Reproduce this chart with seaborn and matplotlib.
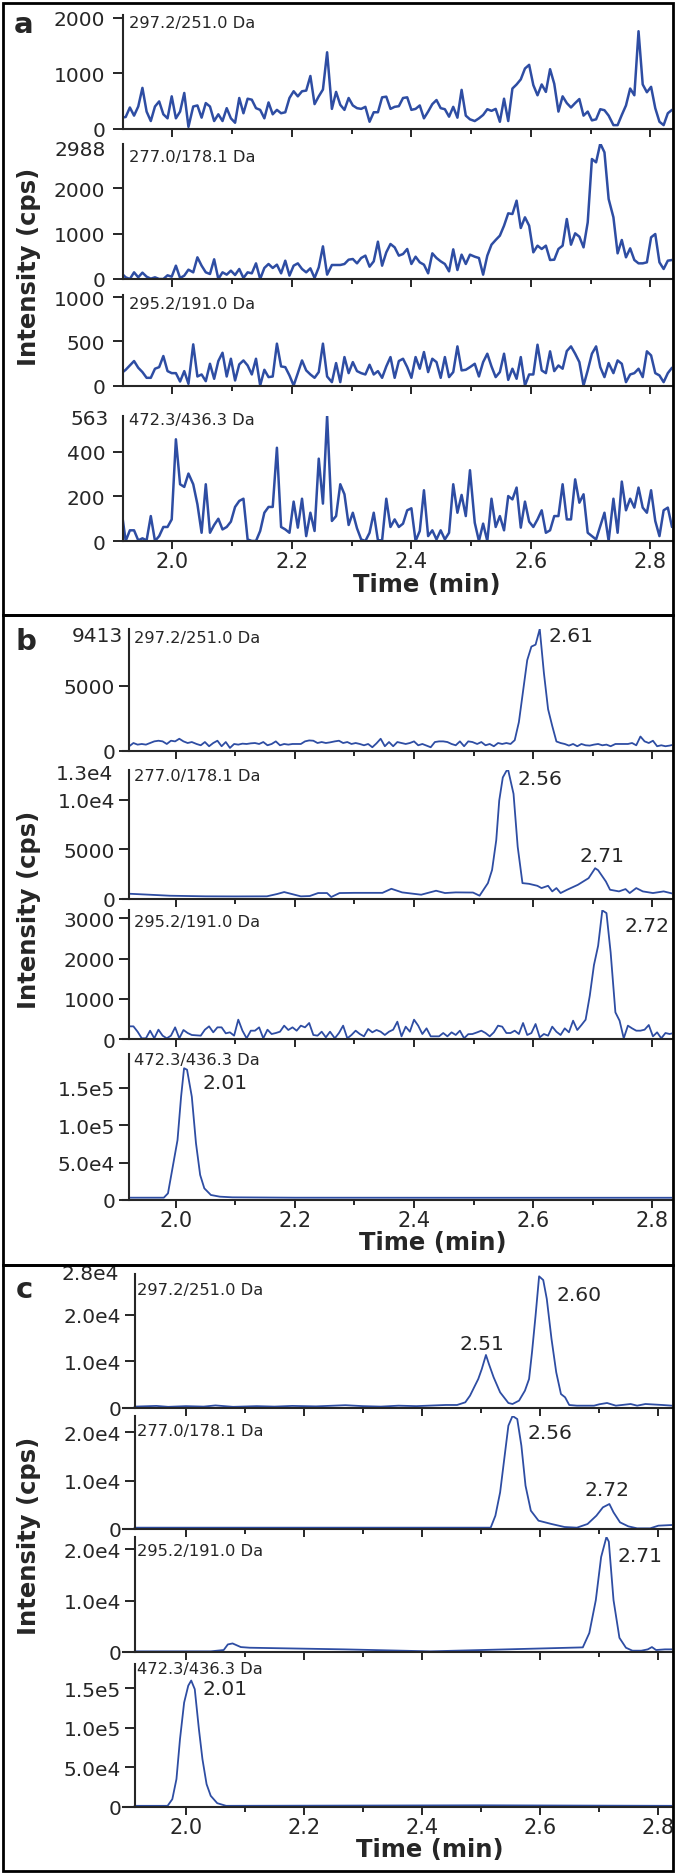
"""
Chromatogrammes MRM : trois panneaux (a, b, c), quatre transitions chacun
"""
import numpy as np
import matplotlib
matplotlib.use("Agg")
import matplotlib.pyplot as plt
import matplotlib.patches as mpatches
import seaborn as sns

sns.set_style("ticks")
plt.rcParams["font.family"] = ["DejaVu Sans"]

# ── Données ─────────────────────────────────────────────────────────────────
# temps de scan communs (panneaux a et b, traces bruitées)
scan_t = [1.915, 1.922, 1.929, 1.936, 1.943, 1.950, 1.957, 1.964, 1.971, 1.978,
          1.985, 1.992, 1.999, 2.006, 2.013, 2.020, 2.027, 2.035, 2.042, 2.049,
          2.056, 2.063, 2.070, 2.077, 2.084, 2.091, 2.098, 2.105, 2.112, 2.119,
          2.126, 2.133, 2.140, 2.147, 2.154, 2.161, 2.168, 2.175, 2.182, 2.189,
          2.196, 2.203, 2.210, 2.217, 2.224, 2.231, 2.238, 2.245, 2.252, 2.259,
          2.267, 2.274, 2.281, 2.288, 2.295, 2.302, 2.309, 2.316, 2.323, 2.330,
          2.337, 2.344, 2.351, 2.358, 2.365, 2.372, 2.379, 2.386, 2.393, 2.400,
          2.407, 2.414, 2.421, 2.428, 2.435, 2.442, 2.449, 2.456, 2.463, 2.470,
          2.477, 2.484, 2.491, 2.498, 2.506, 2.513, 2.520, 2.527, 2.534, 2.541,
          2.548, 2.555, 2.562, 2.569, 2.576, 2.583, 2.590, 2.597, 2.604, 2.611,
          2.618, 2.625, 2.632, 2.639, 2.646, 2.653, 2.660, 2.667, 2.674, 2.681,
          2.688, 2.695, 2.702, 2.709, 2.716, 2.723, 2.730, 2.738, 2.745, 2.752,
          2.759, 2.766, 2.773, 2.780, 2.787, 2.794, 2.801, 2.808, 2.815, 2.822,
          2.829, 2.836]

a1_int = [196, 208, 380, 233, 398, 735, 306, 135, 398, 490,
          257, 184, 582, 184, 306, 643, 30, 398, 417, 196,
          460, 398, 135, 257, 135, 368, 184, 104, 552, 276,
          539, 521, 368, 337, 184, 472, 257, 337, 276, 294,
          552, 674, 582, 674, 686, 950, 441, 582, 705, 1379,
          355, 662, 429, 337, 552, 417, 368, 355, 392, 122,
          294, 294, 564, 576, 355, 392, 404, 552, 564, 337,
          355, 417, 184, 306, 441, 515, 368, 349, 214, 392,
          196, 699, 233, 166, 135, 184, 245, 349, 319, 355,
          122, 539, 135, 723, 797, 889, 1085, 1152, 785, 601,
          797, 662, 1073, 809, 306, 582, 460, 380, 460, 533,
          233, 306, 147, 166, 349, 331, 233, 61, 61, 245,
          417, 723, 601, 1760, 797, 656, 754, 368, 122, 61,
          276, 337]

a2_int = [125, 37, 0, 147, 37, 140, 51, 7, 37, 0,
          0, 81, 51, 294, 22, 74, 206, 147, 478, 294,
          147, 110, 434, 0, 147, 96, 184, 88, 221, 22,
          147, 125, 345, 0, 243, 331, 243, 316, 125, 404,
          74, 294, 345, 221, 147, 235, 22, 257, 720, 96,
          309, 309, 309, 331, 426, 441, 345, 463, 515, 272,
          390, 823, 294, 588, 772, 698, 515, 551, 662, 331,
          492, 368, 316, 125, 566, 463, 390, 331, 169, 654,
          198, 537, 331, 537, 492, 463, 96, 515, 757, 860,
          956, 1176, 1448, 1433, 1727, 1125, 1360, 1176, 588, 735,
          662, 735, 419, 426, 662, 735, 1323, 757, 1007, 933,
          698, 1250, 2646, 2573, 2988, 2793, 1764, 1360, 566, 860,
          478, 676, 419, 345, 345, 368, 919, 992, 368, 221,
          404, 419]

a3_int = [140, 178, 227, 277, 201, 152, 87, 87, 190, 208,
          334, 163, 140, 140, 45, 163, 19, 466, 102, 125,
          49, 246, 76, 277, 371, 102, 303, 57, 239, 284,
          227, 125, 303, 0, 178, 95, 102, 474, 216, 208,
          114, 0, 140, 284, 171, 125, 87, 152, 474, 102,
          38, 254, 38, 322, 140, 265, 163, 140, 125, 235,
          125, 163, 87, 216, 322, 87, 277, 303, 208, 87,
          322, 190, 379, 152, 303, 265, 87, 322, 95, 152,
          443, 171, 178, 208, 246, 102, 265, 360, 216, 95,
          152, 360, 64, 190, 76, 322, 0, 125, 125, 462,
          171, 140, 387, 163, 227, 190, 390, 443, 360, 265,
          0, 171, 360, 443, 208, 95, 254, 140, 284, 246,
          38, 125, 140, 190, 95, 387, 341, 140, 114, 38,
          140, 201]

a4_int = [138, 0, 48, 48, 3, 12, 3, 112, 0, 22,
          63, 63, 97, 457, 255, 243, 303, 255, 165, 37,
          255, 37, 72, 100, 52, 63, 87, 153, 180, 190,
          7, 0, 0, 45, 127, 153, 153, 419, 63, 52,
          37, 177, 60, 190, 22, 127, 45, 370, 168, 563,
          90, 112, 255, 210, 72, 127, 57, 7, 0, 37,
          127, 3, 3, 190, 63, 97, 63, 78, 138, 147,
          0, 45, 228, 22, 48, 7, 48, 7, 37, 255,
          127, 207, 112, 318, 82, 0, 78, 0, 190, 63,
          112, 48, 202, 187, 240, 60, 177, 87, 63, 97,
          138, 37, 48, 112, 112, 255, 97, 97, 277, 172,
          210, 37, 22, 7, 67, 127, 0, 190, 37, 267,
          138, 190, 150, 240, 150, 127, 228, 90, 22, 138,
          150, 63]

b1_int = [330, 330, 580, 455, 505, 455, 580, 707, 757, 707,
          505, 757, 707, 910, 707, 580, 656, 505, 404, 656,
          330, 580, 757, 330, 656, 200, 505, 455, 530, 505,
          555, 580, 505, 656, 404, 505, 707, 404, 505, 455,
          505, 505, 505, 707, 780, 757, 580, 656, 580, 630,
          707, 757, 580, 656, 505, 580, 505, 404, 505, 252,
          555, 910, 330, 656, 330, 656, 580, 505, 580, 707,
          404, 505, 380, 252, 656, 707, 707, 656, 505, 404,
          707, 330, 707, 656, 505, 656, 404, 505, 330, 580,
          505, 580, 505, 800, 2200, 4600, 7000, 8050, 8200, 9413,
          6000, 3200, 1900, 700, 580, 505, 380, 505, 330, 505,
          404, 380, 455, 505, 404, 455, 330, 505, 505, 505,
          505, 580, 404, 1085, 707, 580, 757, 330, 404, 330,
          380, 455]

b3_int = [315,
          315, 315, 182, 17, 17, 207, 17, 232, 83, 17,
          83, 290, 17, 224, 149, 100, 90, 83, 232, 315,
          166, 290, 290, 141, 166, 83, 481, 207, 17, 207,
          207, 290, 17, 232, 124, 149, 182, 332, 224, 290,
          207, 332, 290, 398, 100, 83, 182, 41, 182, 17,
          150,
          332, 17, 100, 207, 124, 66, 249, 166, 224, 182,
          100, 182, 232, 431, 66, 307, 182, 481, 332, 124,
          265, 66, 66, 66, 149, 66, 166, 100, 207, 17,
          120,
          124, 166, 207, 149, 66, 166, 332, 307, 149, 149,
          207, 124, 398, 100, 149, 373, 41, 124, 83, 307,
          180,
          100, 265, 166, 456, 224, 348, 481, 1078, 1840, 2320,
          3200, 3133, 2155, 663, 456, 17, 332, 265, 207, 207,
          232, 348, 66, 166, 17, 149, 124,
          150]

# traces plus lisses : sommets
b2_t = [1.922, 1.960, 1.990, 2.050, 2.100, 2.153, 2.170, 2.182, 2.195, 2.210,
        2.225, 2.239, 2.254, 2.261, 2.275, 2.300, 2.347, 2.362, 2.380, 2.412,
        2.437, 2.452, 2.470, 2.499, 2.510, 2.524, 2.531, 2.538, 2.543, 2.549,
        2.555, 2.558, 2.567, 2.574, 2.582, 2.593, 2.607, 2.614, 2.625, 2.632,
        2.639, 2.646, 2.657, 2.675, 2.693, 2.704, 2.709, 2.722, 2.729, 2.744,
        2.755, 2.762, 2.773, 2.784, 2.801, 2.819, 2.833]
b2_int = [530, 420, 330, 270, 260, 270, 500, 700, 500, 266,
          300, 600, 600, 200, 600, 620, 620, 1030, 666, 433,
          833, 600, 666, 650, 333, 1600, 2930, 5930, 9920, 12250,
          12900, 13000, 10600, 5260, 1600, 1530, 1330, 1100, 1330, 766,
          1100, 600, 933, 1430, 2100, 3100, 2900, 1765, 933, 766,
          1000, 600, 1100, 766, 600, 766, 560]

b4_t = [1.922, 1.980, 1.987, 1.994, 2.003, 2.009, 2.014, 2.019, 2.027, 2.034,
        2.041, 2.048, 2.059, 2.074, 2.095, 2.200, 2.500, 2.833]
b4_int = [3100, 3100, 8900, 40000, 80000, 138000, 176000, 174000, 138000, 75800,
          33500, 15600, 6700, 4460, 3570, 3100, 3000, 3000]

c1_t = [1.913, 1.950, 1.970, 2.000, 2.030, 2.050, 2.080, 2.120, 2.150, 2.180,
        2.220, 2.250, 2.270, 2.300, 2.330, 2.360, 2.390, 2.420, 2.440, 2.459,
        2.473, 2.481, 2.488, 2.495, 2.501, 2.508, 2.513, 2.521, 2.532, 2.546,
        2.553, 2.564, 2.574, 2.581, 2.586, 2.592, 2.598, 2.605, 2.611, 2.619,
        2.627, 2.635, 2.642, 2.649, 2.662, 2.691, 2.700, 2.713, 2.728, 2.753,
        2.764, 2.778, 2.807, 2.823]
c1_int = [300, 450, 250, 400, 300, 550, 250, 400, 300, 450,
          350, 500, 600, 400, 300, 500, 400, 550, 650, 645,
          1220, 2650, 4450, 6240, 8390, 11400, 9460, 6600, 3370, 1075,
          860, 1580, 3730, 6240, 12000, 19860, 28300, 27500, 23450, 14840,
          7670, 3000, 2300, 645, 500, 500, 800, 1075, 500, 860,
          500, 860, 645, 500]

c2_t = [1.913, 2.516, 2.524, 2.532, 2.539, 2.546, 2.553, 2.561, 2.568, 2.575,
        2.584, 2.597, 2.619, 2.641, 2.662, 2.680, 2.695, 2.706, 2.717, 2.724,
        2.735, 2.749, 2.764, 2.786, 2.800, 2.823]
c2_int = [276, 276, 2760, 7590, 14500, 21400, 23400, 22770, 17250, 8970,
          3800, 1725, 1035, 414, 276, 1035, 2760, 4485, 5175, 3450,
          1380, 552, 138, 138, 690, 828]

c3_t = [1.913, 2.042, 2.064, 2.071, 2.079, 2.093, 2.108, 2.268, 2.414, 2.672,
        2.683, 2.694, 2.703, 2.712, 2.716, 2.724, 2.734, 2.745, 2.756, 2.771,
        2.782, 2.789, 2.796, 2.811, 2.823]
c3_int = [128, 128, 385, 1474, 1667, 960, 833, 513, 128, 900,
          3700, 10100, 18500, 22400, 21500, 10100, 2760, 833, 256, 256,
          513, 960, 385, 513, 513]

c4_t = [1.913, 1.969, 1.977, 1.984, 1.990, 1.997, 2.004, 2.009, 2.015, 2.022,
        2.028, 2.035, 2.042, 2.053, 2.068, 2.300, 2.500, 2.823]
c4_int = [850, 850, 9300, 34800, 85600, 132000, 153500, 160000, 149000, 98400,
          60200, 28400, 13600, 4240, 850, 1200, 1500, 850]

mrm = ["297.2/251.0 Da", "277.0/178.1 Da", "295.2/191.0 Da", "472.3/436.3 Da"]

# ── Mise en page (pixels de l'image d'origine) ──────────────────────────────
W, H = 675, 1874
AX_L, AX_R = 122.7, 672.0
LINE = "#2e4da3"

# xlim et position de l'axe y (en minutes) par panneau
panel_x = {"a": (1.917, 2.836, 1.917), "b": (1.911, 2.833, 1.9216),
           "c": (1.893, 2.823, 1.913)}
panel_lw = {"a": 1.8, "b": 1.3, "c": 1.3}
panel_pad = {"a": 5.5, "b": 3, "c": 2.5}
mrm_x = {"a": 129.3, "b": 134.5, "c": 137.0}

e4 = ["0", "1.0e4", "2.0e4"]
e5 = ["0", "5.0e4", "1.0e5", "1.5e5"]
traces = [
    # panel, top, bottom, t, y, ymax, yticks, ylabels, top label (txt, dx, dy), mrm y, peaks
    ("a", 16.2, 129.5, scan_t, a1_int, 2050, [0, 1000, 2000], None, None, 23.3, []),
    ("a", 144.5, 280, scan_t, a2_int, 2988, [0, 1000, 2000], None, ("2988", -17, -6.5), 158, []),
    ("a", 296, 386.5, scan_t, a3_int, 1025, [0, 500, 1000], None, None, 304.7, []),
    ("a", 416.7, 542, scan_t, a4_int, 563, [0, 200, 400], None, ("563", -14, -3), 420, []),
    ("b", 630, 751.5, scan_t[1:], b1_int[1:], 9413, [0, 5000], None, ("9413", -6, -6.7), 638,
     [(2.625, 8900, "2.61")]),
    ("b", 771, 900, b2_t, b2_int, 13000, [0, 5000, 10000], ["0", "5000", "1.0e4"],
     ("1.3e4", -16, -4), 776.7, [(2.574, 12120, "2.56"), (2.677, 4370, "2.71")]),
    ("b", 911.4, 1040, scan_t[1:], b3_int[1:], 3200, [0, 1000, 2000, 3000], None, None, 923,
     [(2.754, 2820, "2.72")]),
    ("b", 1055, 1201, b4_t, b4_int, 1.95e5, [0, 5e4, 1e5, 1.5e5], e5, None, 1060,
     [(2.045, 157000, "2.01")]),
    ("c", 1275, 1409, c1_t, c1_int, 2.88e4, [0, 1e4, 2e4], e4, ("2.8e4", -16, 0), 1290,
     [(2.627, 24500, "2.60"), (2.463, 13760, "2.51")]),
    ("c", 1417, 1530, c2_t, c2_int, 2.34e4, [0, 1e4, 2e4], e4, None, 1431.7,
     [(2.579, 19900, "2.56"), (2.675, 8140, "2.72")]),
    ("c", 1538, 1653, c3_t, c3_int, 2.24e4, [0, 1e4, 2e4], e4, None, 1551.7,
     [(2.731, 18830, "2.71")]),
    ("c", 1665, 1807.5, c4_t, c4_int, 1.81e5, [0, 5e4, 1e5, 1.5e5], e5, None, 1670,
     [(2.028, 150400, "2.01")]),
]

fig = plt.figure(figsize=(W / 100, H / 100), dpi=100)

def fx(px):
    return px / W

def fy(py):
    return 1 - py / H

for i, (pan, top, bot, t, y, ymax, yt, ylab, toplab, mrm_y, peaks) in enumerate(traces):
    ax = fig.add_axes([fx(AX_L), fy(bot), fx(AX_R - AX_L), (bot - top) / H])
    x0, x1, xsp = panel_x[pan]
    sns.lineplot(x=t, y=y, ax=ax, color=LINE, linewidth=panel_lw[pan],
                 estimator=None, sort=False)
    ax.set_xlim(x0, x1)
    ax.set_ylim(0, ymax)
    ax.set_xlabel("")
    ax.set_ylabel("")
    for s in ["top", "right"]:
        ax.spines[s].set_visible(False)
    for s in ["left", "bottom"]:
        ax.spines[s].set_linewidth(1.5)
    ax.spines["left"].set_position(("data", xsp))

    ax.set_xticks([2.0, 2.2, 2.4, 2.6, 2.8])
    ax.set_xticks([2.1, 2.3, 2.5, 2.7], minor=True)
    last = (i % 4 == 3)
    if last:
        ax.set_xticklabels(["2.0", "2.2", "2.4", "2.6", "2.8"])
    else:
        ax.set_xticklabels([])
    ax.tick_params(axis="x", which="major", direction="out", length=6, width=1.4,
                   pad=1.5, labelsize=15)
    ax.tick_params(axis="x", which="minor", direction="out", length=3.5, width=1.4)

    ax.set_yticks(yt)
    ax.set_yticklabels(ylab if ylab else [str(v) for v in yt])
    ax.tick_params(axis="y", direction="out", length=7, width=1.4,
                   pad=panel_pad[pan], labelsize=14.5)

    if toplab:
        txt, dx, dy = toplab
        ax.annotate(txt, xy=(xsp, ymax), xycoords="data", xytext=(dx, dy),
                    textcoords="offset pixels", ha="right", va="center",
                    fontsize=14.5, annotation_clip=False)

    fig.text(fx(mrm_x[pan]), fy(mrm_y), mrm[i % 4], fontsize=11.7,
             ha="left", va="center")

    for pt, pv, lab in peaks:
        ax.text(pt, pv, lab, ha="left", va="center", fontsize=14.6)

# ── Titres d'axes, lettres, cadres ──────────────────────────────────────────
time_pos = {"a": (427, 585), "b": (432.6, 1243), "c": (430, 1850)}
ylab_pos = {"a": (29, 266.5), "b": (29, 910), "c": (29, 1536)}
letter_pos = {"a": (24, 25), "b": (26, 642), "c": (24.5, 1290)}
box_y = {"a": (3.5, 615.5), "b": (615.5, 1266), "c": (1266, 1871.5)}

for pan in ["a", "b", "c"]:
    tx, ty = time_pos[pan]
    fig.text(fx(tx), fy(ty), "Time (min)", fontsize=17.5, fontweight="bold",
             ha="center", va="center")
    lx, ly = ylab_pos[pan]
    fig.text(fx(lx), fy(ly), "Intensity (cps)", fontsize=17.5, fontweight="bold",
             rotation=90, ha="center", va="center")
    cx, cy = letter_pos[pan]
    fig.text(fx(cx), fy(cy), pan, fontsize=21, fontweight="bold",
             ha="center", va="center")
    y0, y1 = box_y[pan]
    fig.patches.append(mpatches.Rectangle((fx(2.5), fy(y1)), fx(670), (y1 - y0) / H,
                                          transform=fig.transFigure, fill=False,
                                          lw=2, ec="black"))

fig.savefig("out.png", dpi=100)
plt.close()
